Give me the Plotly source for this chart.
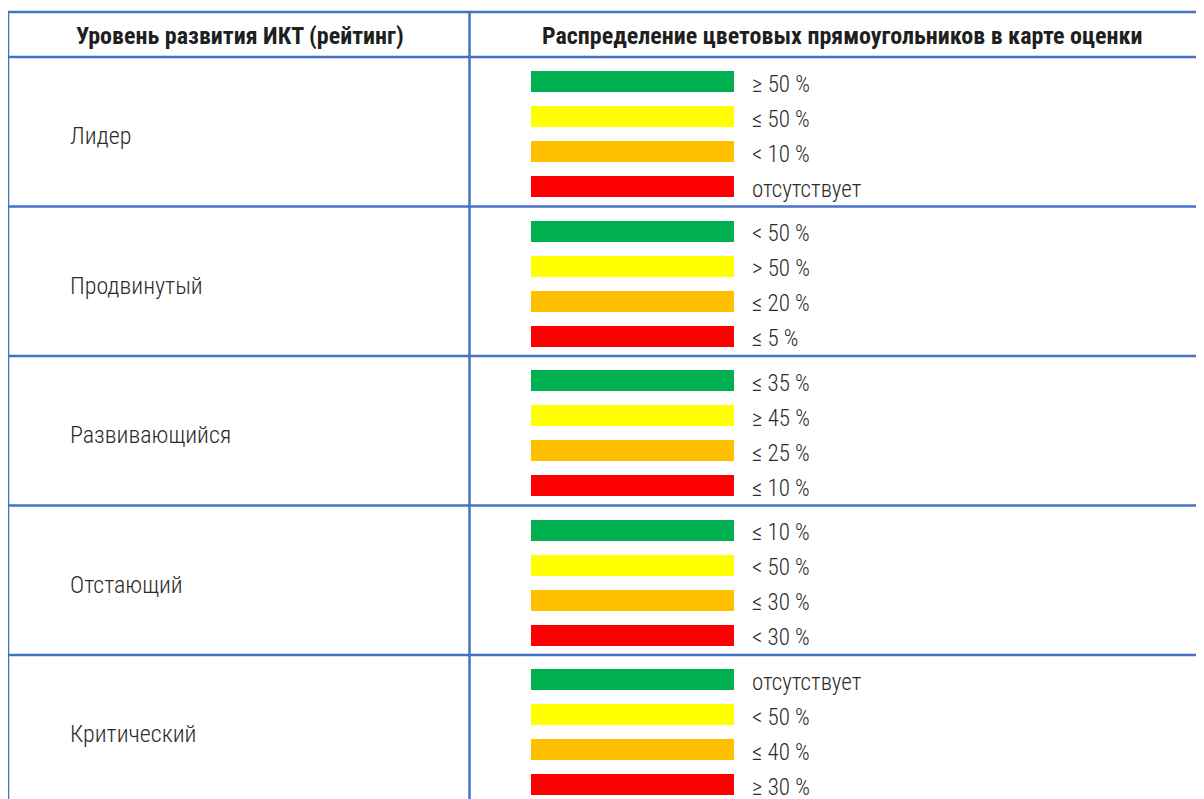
import plotly.graph_objects as go

# ---- data ----
header_left = "Уровень развития ИКТ (рейтинг)"
header_right = "Распределение цветовых прямоугольников в карте оценки"
levels = ["Лидер", "Продвинутый", "Развивающийся", "Отстающий", "Критический"]
bar_colors = ["#00B050", "#FFFF00", "#FFC000", "#FF0000"]
green_labels = ["≥ 50 %", "< 50 %", "≤ 35 %", "≤ 10 %", "отсутствует"]
yellow_labels = ["≤ 50 %", "> 50 %", "≥ 45 %", "< 50 %", "< 50 %"]
orange_labels = ["< 10 %", "≤ 20 %", "≤ 25 %", "≤ 30 %", "≤ 40 %"]
red_labels = ["отсутствует", "≤ 5 %", "≤ 10 %", "< 30 %", "≥ 30 %"]
series_labels = [green_labels, yellow_labels, orange_labels, red_labels]

# ---- geometry (screen-pixel coordinates; page body has an 8px margin) ----
PAGE_MARGIN = 8
W, H = 1204, 799
FONT = "Roboto Condensed, Roboto, sans-serif"
TXT = "#2b2b2b"
LINE = "#4472C4"
x_left, x_mid, x_right = 8, 469.5, 1216
y_top, y_head = 12, 57
row_h = 149.5
bar_x0, bar_len, bar_h = 531, 203, 21
bar_offsets = [24.5, 59.5, 94.5, 129.5]
label_x = 750
level_x = 68

fig = go.Figure()

for k, (col, labs) in enumerate(zip(bar_colors, series_labels)):
    ys = [y_head + i * row_h + bar_offsets[k] for i in range(len(levels))]
    fig.add_trace(go.Bar(
        orientation="h", y=ys, x=[bar_len] * len(ys), base=[bar_x0] * len(ys),
        width=bar_h, marker=dict(color=col, line=dict(width=0)),
        hoverinfo="skip", showlegend=False,
    ))
    for y, t in zip(ys, labs):
        fig.add_annotation(x=label_x, y=y + 2.5, text=t, showarrow=False,
                           xanchor="left", yanchor="middle",
                           font=dict(family=FONT, size=23, color=TXT, weight=300))

for i, lev in enumerate(levels):
    fig.add_annotation(x=level_x, y=y_head + i * row_h + 79, text=lev, showarrow=False,
                       xanchor="left", yanchor="middle",
                       font=dict(family=FONT, size=24, color=TXT, weight=300))

fig.add_annotation(x=(x_left + x_mid) / 2 + 1, y=(y_top + y_head) / 2 + 1, text=header_left,
                   showarrow=False, xanchor="center", yanchor="middle",
                   font=dict(family=FONT, size=24, color="#1f1f1f", weight="bold"))
fig.add_annotation(x=(x_mid + x_right) / 2, y=(y_top + y_head) / 2 + 1, text=header_right,
                   showarrow=False, xanchor="center", yanchor="middle",
                   font=dict(family=FONT, size=24, color="#1f1f1f", weight="bold"))

# table grid
y_bottom = y_head + len(levels) * row_h
hlines = [y_top, y_head] + [y_head + (i + 1) * row_h for i in range(len(levels))]
for y in hlines:
    fig.add_shape(type="line", x0=x_left, x1=x_right, y0=y, y1=y,
                  line=dict(color=LINE, width=2.5), layer="above")
for x in [x_left, x_mid]:
    fig.add_shape(type="line", x0=x, x1=x, y0=y_top, y1=y_bottom,
                  line=dict(color=LINE, width=2.5), layer="above")

fig.update_layout(
    width=W - PAGE_MARGIN, height=H - PAGE_MARGIN, margin=dict(l=0, r=0, t=0, b=0),
    paper_bgcolor="white", plot_bgcolor="white",
    xaxis=dict(range=[PAGE_MARGIN, W], visible=False, fixedrange=True),
    yaxis=dict(range=[H, PAGE_MARGIN], visible=False, fixedrange=True),
    bargap=0, showlegend=False,
)
fig.write_html("out.html")
